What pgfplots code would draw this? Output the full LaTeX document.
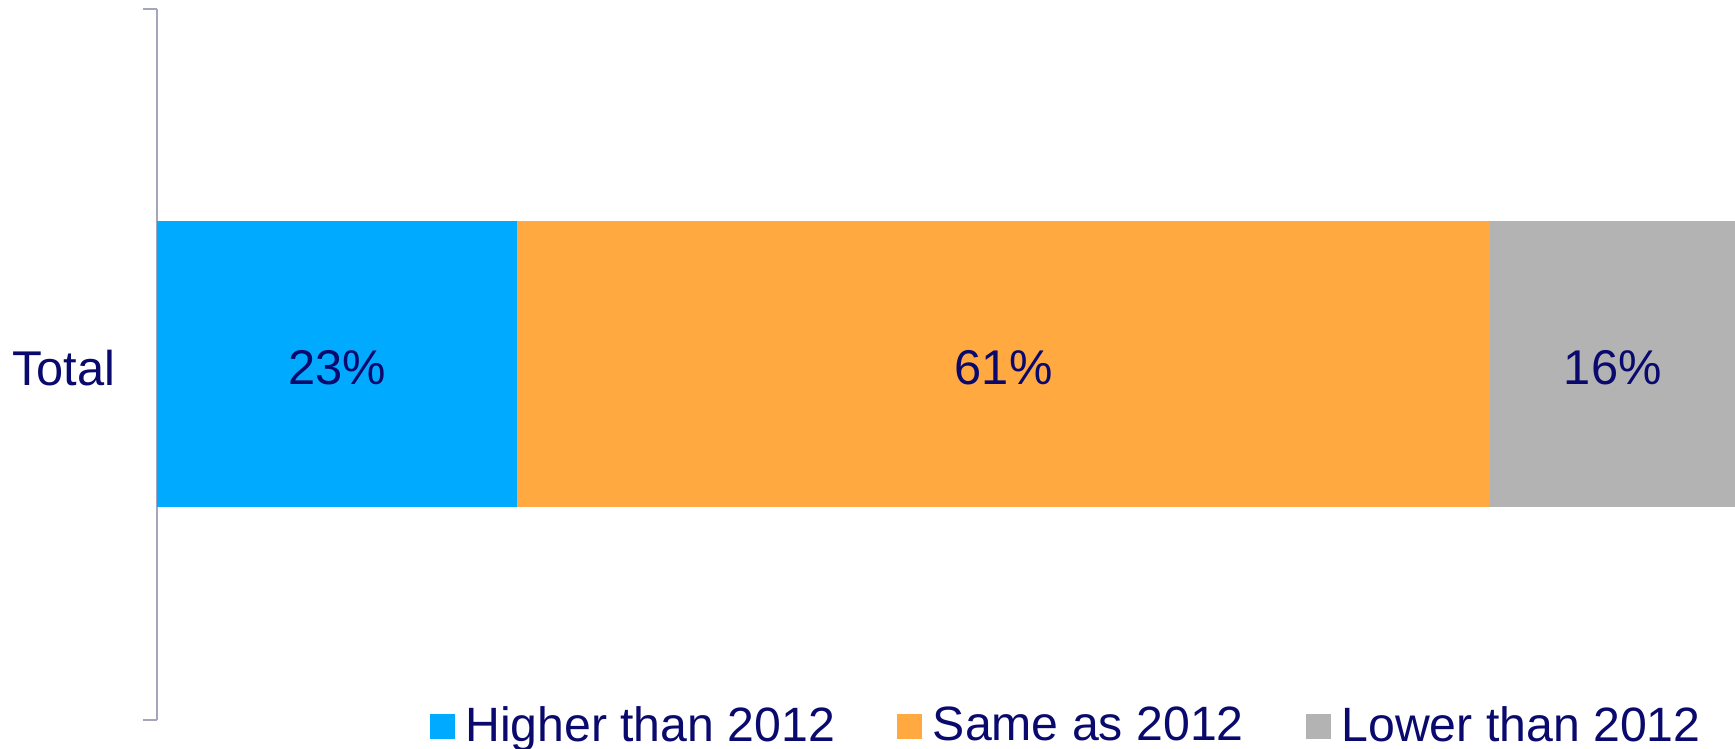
\documentclass[border=0pt]{standalone}
\usepackage{fontspec}
\setmainfont{Liberation Sans}
\usepackage{pgfplots}
\pgfplotsset{compat=1.18}
\definecolor{cblue}{RGB}{0,170,255}
\definecolor{corange}{RGB}{255,169,64}
\definecolor{cgray}{RGB}{179,179,179}
\definecolor{navy}{RGB}{10,10,110}
\definecolor{axgray}{RGB}{165,165,190}
\begin{document}
\begin{tikzpicture}
\useasboundingbox (-39.25pt,-7.25pt) rectangle (394.5pt,180pt);
\begin{axis}[
  at={(0pt,0pt)}, anchor=south west,
  scale only axis,
  width=394.5pt, height=177.75pt,
  xmin=0, xmax=100, ymin=0, ymax=1,
  xbar stacked, bar width=71.5pt,
  axis x line=none,
  axis y line*=left,
  y axis line style={axgray, line width=0.5pt},
  ytick={0,1}, yticklabels={},
  tick align=outside, major tick length=3.5pt,
  y tick style={axgray, line width=0.5pt},
  extra y ticks={0.5}, extra y tick labels={Total},
  extra y tick style={major tick length=0pt,
    tick label style={font=\fontsize{12.2}{14}\selectfont, text=navy, inner sep=0pt, xshift=-10.2pt, yshift=-0.8pt}},
  legend columns=3,
  legend style={draw=none, fill=none, at={(1,0)}, anchor=east, xshift=-5.4pt, yshift=-1.7pt,
    font=\fontsize{12.05}{14}\selectfont, text=navy, nodes={inner sep=0pt},
    /tikz/every odd column/.append style={column sep=2.6pt},
    /tikz/every even column/.append style={column sep=15.6pt}},
  legend image code/.code={\fill[#1] (0pt,-3.125pt) rectangle (6.25pt,3.125pt);},
  point meta=explicit symbolic,
  nodes near coords,
  nodes near coords align={center},
  every node near coord/.append style={font=\fontsize{12.2}{14}\selectfont, text=navy, anchor=center, yshift=-0.8pt},
  clip=false,
]
\addplot[fill=cblue, draw=none] coordinates {(22.8,0.5) [23\%]};
\addplot[fill=corange, draw=none] coordinates {(61.7,0.5) [61\%]};
\addplot[fill=cgray, draw=none] coordinates {(15.5,0.5) [16\%]};
\legend{Higher than 2012, Same as 2012, Lower than 2012}
\end{axis}
\end{tikzpicture}
\end{document}
